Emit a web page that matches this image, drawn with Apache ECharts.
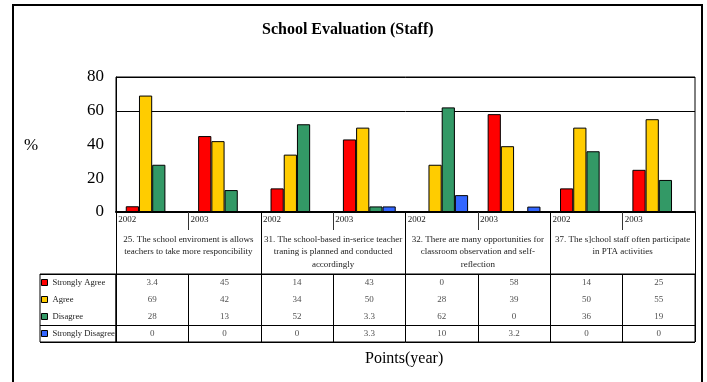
<!DOCTYPE html>
<html><head><meta charset="utf-8">
<script src="https://cdn.jsdelivr.net/npm/echarts@6/dist/echarts.min.js"></script>
<style>
html,body{margin:0;padding:0;background:#fff;}
#wrap{position:relative;width:707px;height:382px;overflow:hidden;}
#chart{position:absolute;left:0;top:0;width:707px;height:382px;}
#frame{position:absolute;left:12px;top:4px;width:691px;height:420px;border:2px solid #000;box-sizing:border-box;pointer-events:none;}
</style></head>
<body><div id="wrap"><div id="chart"></div><div id="frame"></div></div>
<script>
// ---- data ----
const years = ['2002','2003','2002','2003','2002','2003','2002','2003'];
const groups = [
  '25. The school enviroment is allows\nteachers to take more responcibility',
  '31. The school-based in-serice teacher\ntraning is planned and conducted\naccordingly',
  '32. There are many opportunities for\nclassroom observation and self-\nreflection',
  '37. The s]chool staff often participate\nin PTA activities'
];
const seriesNames = ['Strongly Agree','Agree','Disagree','Strongly Disagree'];
const stronglyAgree    = [3.4, 45, 14, 43,  0, 58, 14, 25];
const agree            = [69,  42, 34, 50, 28, 39, 50, 55];
const disagree         = [28,  13, 52, 3.3, 62, 0, 36, 19];
const stronglyDisagree = [0,    0,  0, 3.3, 10, 3.2, 0, 0];
const yTicks = [0, 20, 40, 60, 80];
const gridLineValue = 60;
const colors = ['#FF0000','#FFCC00','#339966','#3366FF'];

// ---- build ----
const allSeries = [stronglyAgree, agree, disagree, stronglyDisagree];
const catKeys = years.map((y, i) => 'c' + i);
const serif = 'Liberation Serif';

const barSeries = allSeries.map((arr, k) => ({
  name: seriesNames[k],
  type: 'bar',
  xAxisIndex: 0, yAxisIndex: 0,
  data: arr,
  barGap: '0%',
  barCategoryGap: '27%',
  itemStyle: { color: colors[k], borderColor: '#000', borderWidth: 1 },
  emphasis: { disabled: true }
}));

const tableData = [];
allSeries.forEach((arr, r) => arr.forEach((v, c) => tableData.push([c, r + 0.5, v])));

const option = {
  animation: false,
  backgroundColor: '#fff',
  title: [
    { text: 'School Evaluation (Staff)', left: 262, top: 22, padding: 0,
      textStyle: { fontFamily: serif, fontWeight: 'bold', fontSize: 16, color: '#000' } },
    { text: '%', left: 24, top: 137, padding: 0,
      textStyle: { fontFamily: serif, fontWeight: 'normal', fontSize: 17, color: '#000' } },
    { text: 'Points(year)', left: 365, top: 351, padding: 0,
      textStyle: { fontFamily: serif, fontWeight: 'normal', fontSize: 16, color: '#000' } }
  ],
  legend: {
    data: seriesNames,
    orient: 'vertical',
    left: 41, top: 274, padding: 0,
    itemGap: 0,
    itemWidth: 6, itemHeight: 6,
    icon: 'rect',
    selectedMode: false,
    itemStyle: { borderColor: '#000', borderWidth: 1 },
    textStyle: { fontFamily: serif, fontSize: 8.6, color: '#222', lineHeight: 17 }
  },
  grid: [
    { left: 116, right: 12, top: 77, height: 135, show: true, borderColor: '#000', borderWidth: 1, backgroundColor: 'transparent' },
    { left: 116, right: 12, top: 274, height: 68, show: true, borderColor: '#000', borderWidth: 1, backgroundColor: 'transparent' },
    { left: 40, width: 76, top: 274, height: 68, show: true, borderColor: '#000', borderWidth: 1, backgroundColor: 'transparent' }
  ],
  xAxis: [
    { type: 'category', gridIndex: 0, data: catKeys, position: 'bottom',
      axisLine: { show: true, lineStyle: { color: '#000', width: 2 } },
      axisTick: { show: true, interval: 0, length: 18, lineStyle: { color: '#333', width: 1 } },
      axisLabel: { interval: 0, margin: 3,
        formatter: (v, i) => '{y|' + years[i] + '}',
        rich: { y: { width: 68, align: 'left', fontFamily: serif, fontSize: 9, color: '#222' } } },
      splitLine: { show: false } },
    { type: 'category', gridIndex: 0, data: groups, position: 'bottom',
      axisLine: { show: false },
      axisTick: { show: true, interval: 0, length: 62, lineStyle: { color: '#000', width: 1 } },
      axisLabel: { interval: 0, margin: 21, fontFamily: serif, fontSize: 9, color: '#222', lineHeight: 12.5, align: 'center' },
      splitLine: { show: false } },
    { type: 'category', gridIndex: 1, data: catKeys,
      axisLine: { show: false }, axisTick: { show: false }, axisLabel: { show: false },
      splitLine: { show: true, interval: 0, lineStyle: { color: '#000', width: 1 } } },
    { type: 'value', gridIndex: 2, min: 0, max: 1,
      axisLine: { show: false }, axisTick: { show: false }, axisLabel: { show: false }, splitLine: { show: false } }
  ],
  yAxis: [
    { type: 'value', gridIndex: 0, min: yTicks[0], max: yTicks[yTicks.length - 1], interval: yTicks[1] - yTicks[0],
      axisLine: { show: true, lineStyle: { color: '#000', width: 1 } },
      axisTick: { show: false },
      axisLabel: { margin: 12, fontFamily: serif, fontSize: 17, color: '#000' },
      splitLine: { show: false } },
    { type: 'value', gridIndex: 1, min: 0, max: 4, interval: 3, inverse: true,
      axisLine: { show: false }, axisTick: { show: false }, axisLabel: { show: false },
      splitLine: { show: true, lineStyle: { color: '#000', width: 1 } } },
    { type: 'value', gridIndex: 2, min: 0, max: 4, interval: 3, inverse: true,
      axisLine: { show: false }, axisTick: { show: false }, axisLabel: { show: false },
      splitLine: { show: true, lineStyle: { color: '#000', width: 1 } } },
    { type: 'value', gridIndex: 0, min: 0, max: yTicks[yTicks.length - 1], interval: gridLineValue,
      axisLine: { show: false }, axisTick: { show: false }, axisLabel: { show: false },
      splitLine: { show: true, lineStyle: { color: '#000', width: 1 } } }
  ],
  series: barSeries.concat([{
    type: 'scatter',
    xAxisIndex: 2, yAxisIndex: 1,
    symbolSize: 0,
    data: tableData,
    label: { show: true, position: 'inside', formatter: p => String(p.value[2]),
      fontFamily: serif, fontSize: 9, color: '#222' },
    emphasis: { disabled: true },
    silent: true
  }])
};

const chart = echarts.init(document.getElementById('chart'), null, { renderer: 'canvas' });
chart.setOption(option);
</script>
</body></html>
